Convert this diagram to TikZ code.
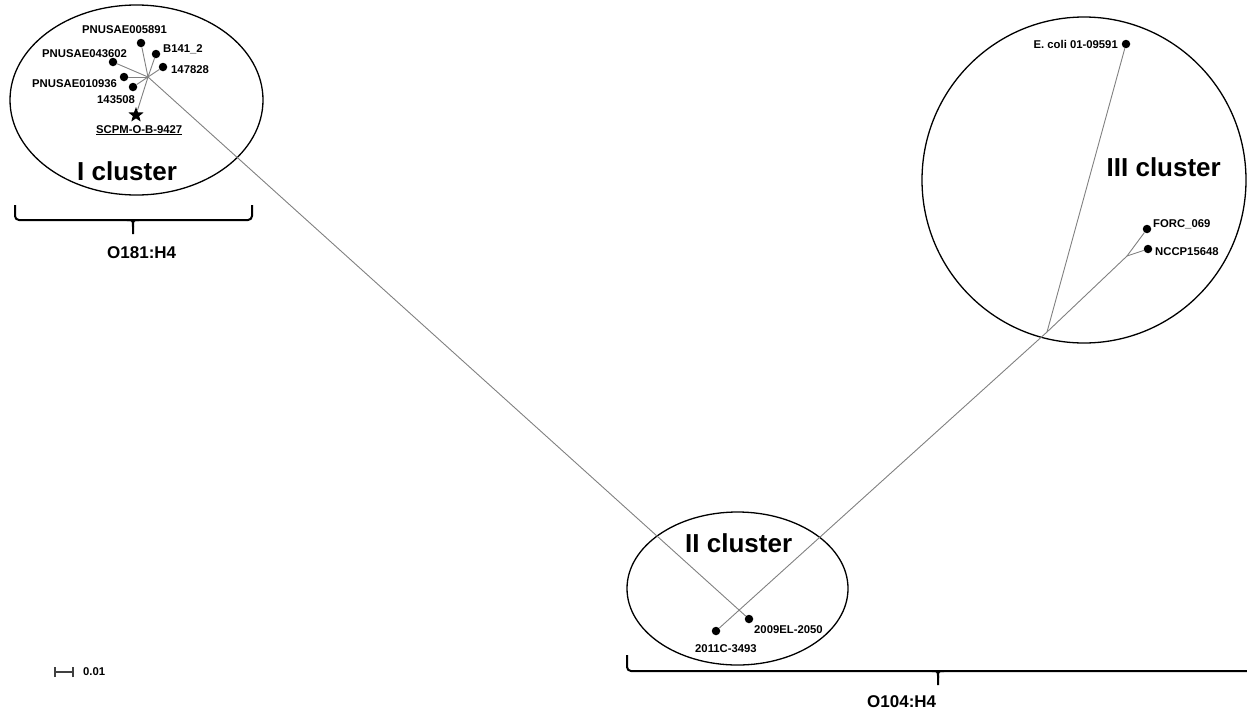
\documentclass[tikz,border=0pt]{standalone}
\usepackage{fontspec}
\setmainfont{Liberation Sans}
\usetikzlibrary{shapes.geometric}
\begin{document}
\begin{tikzpicture}[x=1pt,y=-1pt,
 leaf/.style={circle,fill=black,inner sep=0pt,minimum size=8.5pt},
 branch/.style={draw=black!50,line width=0.9pt},
 lab/.style={font=\fontsize{11.3}{13}\selectfont\bfseries,inner sep=0pt},
 big/.style={font=\fontsize{26}{30}\selectfont\bfseries,inner sep=0pt},
 ser/.style={font=\fontsize{17}{20}\selectfont\bfseries,inner sep=0pt},
 clus/.style={draw=black,ellipse,line width=1.3pt,inner sep=0pt},
 bracepath/.style={draw=black,line width=2pt}]
\useasboundingbox (0,0) rectangle (1247,710);

% cluster outlines
\node[clus,minimum width=253pt,minimum height=190pt] (c1) at (136.5,100) {};
\node[clus,minimum width=221pt,minimum height=153pt] (c2) at (737.5,588.5) {};
\node[clus,minimum width=324pt,minimum height=326pt] (c3) at (1084,180) {};

% cluster titles
\node[big,anchor=base west] (t1) at (77,180) {I cluster};
\node[big,anchor=base west] (t2) at (685,552) {II cluster};
\node[big,anchor=base east] (t3) at (1221,176) {III cluster};

% tree nodes
\coordinate (hub) at (148,77);
\coordinate (n3) at (1047,332);
\coordinate (n4) at (1127,256);
\node[leaf] (d005891) at (141,43) {};
\node[leaf] (db141) at (156,54) {};
\node[leaf] (d147828) at (163,67) {};
\node[leaf] (d043602) at (113,62) {};
\node[leaf] (d010936) at (124,77) {};
\node[leaf] (d143508) at (133,87) {};
\node[star,star points=5,star point ratio=2.4,fill=black,inner sep=0pt,minimum size=16pt] (scpm) at (136,115) {};
\node[leaf] (d2009) at (749,619) {};
\node[leaf] (d2011) at (716,631) {};
\node[leaf] (decoli) at (1126,44) {};
\node[leaf] (dforc) at (1147,229) {};
\node[leaf] (dnccp) at (1148,249) {};

% branches
\draw[branch] (hub) -- (d005891);
\draw[branch] (hub) -- (db141);
\draw[branch] (hub) -- (d147828);
\draw[branch] (hub) -- (d043602);
\draw[branch] (hub) -- (d010936);
\draw[branch] (hub) -- (d143508);
\draw[branch] (hub) -- (scpm);
\draw[branch] (hub) -- (d2009);
\draw[branch] (d2011) -- (n3);
\draw[branch] (n3) -- (decoli);
\draw[branch] (n3) -- (n4);
\draw[branch] (n4) -- (dforc);
\draw[branch] (n4) -- (dnccp);

% leaf labels
\node[lab,anchor=base west] (l005891) at (82,33) {PNUSAE005891};
\node[lab,anchor=base west] (lb141) at (163,52) {B141\_2};
\node[lab,anchor=base west] (l043602) at (42,57) {PNUSAE043602};
\node[lab,anchor=base west] (l147828) at (171,73) {147828};
\node[lab,anchor=base west] (l010936) at (32,87) {PNUSAE010936};
\node[lab,anchor=base west] (l143508) at (97,103) {143508};
\node[lab,anchor=base west] (lscpm) at (96,133) {\underline{SCPM-O-B-9427}};
\node[lab,anchor=base west] (l2009) at (754,633) {2009EL-2050};
\node[lab,anchor=base west] (l2011) at (695,652) {2011C-3493};
\node[lab,anchor=base east] (lecoli) at (1118,48) {E. coli 01-09591};
\node[lab,anchor=base west] (lforc) at (1153,227) {FORC\_069};
\node[lab,anchor=base west] (lnccp) at (1155,255) {NCCP15648};

% serotype braces
\draw[bracepath,rounded corners=4pt] (15,205) -- (15,220) -- (252,220) -- (252,205);
\draw[bracepath] (127,220) .. controls (133,220) .. (133,227) -- (133,234);
\draw[bracepath] (139,220) .. controls (133,220) .. (133,227);
\node[ser,anchor=base west] (s1) at (107,258) {O181:H4};

\draw[bracepath,rounded corners=4pt] (627,655) -- (627,671) -- (1247,671);
\draw[bracepath] (932,671) .. controls (938,671) .. (938,678) -- (938,685);
\draw[bracepath] (944,671) .. controls (938,671) .. (938,678);
\node[ser,anchor=base west] (s2) at (867,707) {O104:H4};

% scale bar
\coordinate (sb1) at (55,672);
\coordinate (sb2) at (73,672);
\draw[black!75,line width=1.2pt] (sb1) -- (sb2);
\draw[black!75,line width=1.2pt] ([yshift=-5pt]sb1) -- ([yshift=5pt]sb1);
\draw[black!75,line width=1.2pt] ([yshift=-5pt]sb2) -- ([yshift=5pt]sb2);
\node[lab,anchor=base west] (sbl) at (83,675) {0.01};
\end{tikzpicture}
\end{document}
